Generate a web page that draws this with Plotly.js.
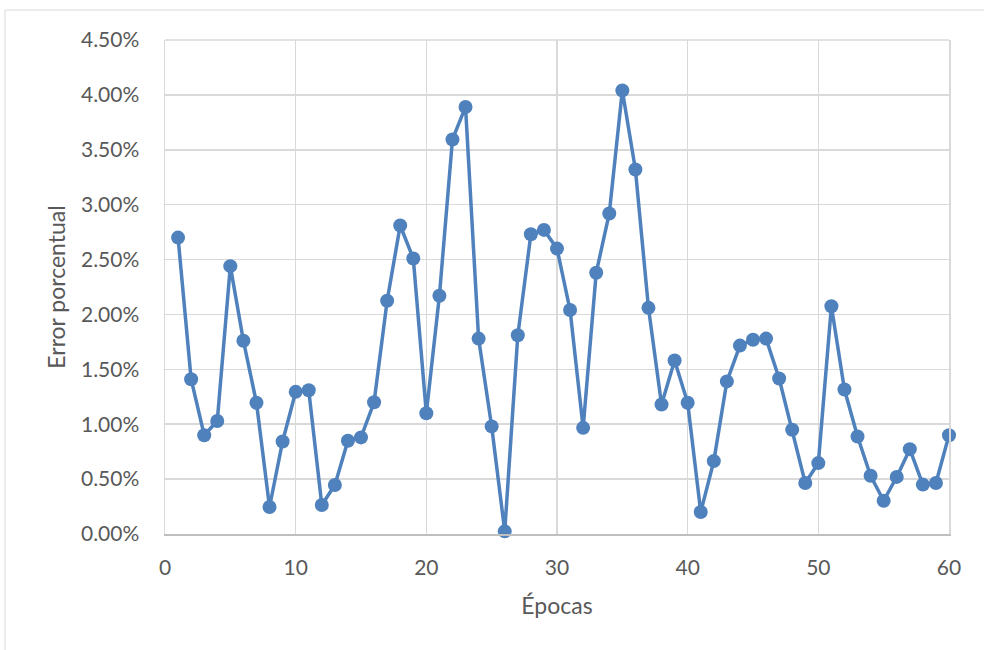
<!DOCTYPE html>
<html>
<head>
<meta charset="utf-8">
<script src="https://cdn.plot.ly/plotly-3.0.1.min.js"></script>
<style>html,body{margin:0;padding:0;background:#fff;}#chart{width:984px;height:650px;}</style>
</head>
<body>
<div id="chart"></div>
<script>
const epochs = [];
for (let i = 1; i <= 60; i++) epochs.push(i);
const errorPct = [
  2.70, 1.41, 0.90, 1.03, 2.44, 1.76, 1.195, 0.246, 0.843, 1.295,
  1.31, 0.264, 0.446, 0.849, 0.88, 1.20, 2.125, 2.81, 2.51, 1.10,
  2.17, 3.594, 3.89, 1.78, 0.98, 0.024, 1.81, 2.73, 2.77, 2.60,
  2.04, 0.967, 2.38, 2.92, 4.04, 3.32, 2.06, 1.18, 1.58, 1.195,
  0.20, 0.664, 1.39, 1.716, 1.77, 1.78, 1.416, 0.95, 0.464, 0.646,
  2.075, 1.316, 0.888, 0.53, 0.303, 0.52, 0.773, 0.45, 0.464, 0.90
];
const yValues = errorPct.map(v => v / 100);
const xTickVals = [0, 10, 20, 30, 40, 50, 60];
const yTickVals = [0, 0.005, 0.01, 0.015, 0.02, 0.025, 0.03, 0.035, 0.04, 0.045];
const xTitle = 'Épocas';
const yTitle = 'Error porcentual';

const fontFam = 'Lato, "Open Sans", sans-serif';
const textColor = '#595959';
const gridColor = '#d9d9d9';

Plotly.newPlot('chart', [{
  x: epochs,
  y: yValues,
  type: 'scatter',
  mode: 'lines+markers',
  cliponaxis: false,
  line: {color: '#4f81bd', width: 3.5},
  marker: {color: '#4f81bd', size: 14},
  hoverinfo: 'x+y'
}], {
  width: 984,
  height: 650,
  paper_bgcolor: '#ffffff',
  plot_bgcolor: '#ffffff',
  margin: {l: 165, r: 35, t: 40, b: 116},
  showlegend: false,
  font: {family: fontFam, color: textColor, size: 21},
  xaxis: {
    range: [0, 60],
    tickvals: xTickVals,
    ticktext: xTickVals.map(String),
    showgrid: true,
    gridcolor: gridColor,
    gridwidth: 1.5,
    zeroline: false,
    showline: true,
    linecolor: '#bfbfbf',
    linewidth: 1.5,
    ticks: '',
    ticklabelstandoff: 14,
    tickfont: {family: fontFam, color: textColor, size: 21},
    title: {text: xTitle, font: {family: fontFam, color: textColor, size: 23}, standoff: 20},
    fixedrange: true
  },
  yaxis: {
    range: [0, 0.045],
    tickvals: yTickVals,
    tickformat: '.2%',
    showgrid: true,
    gridcolor: gridColor,
    gridwidth: 1.5,
    zeroline: false,
    showline: true,
    mirror: true,
    linecolor: gridColor,
    linewidth: 1.5,
    ticks: '',
    ticklabelstandoff: 20,
    tickfont: {family: fontFam, color: textColor, size: 21},
    title: {text: yTitle, font: {family: fontFam, color: textColor, size: 23}, standoff: 9},
    fixedrange: true
  },
  shapes: [
    {type: 'line', xref: 'paper', yref: 'paper', x0: 0, x1: 1, y0: 1, y1: 1,
     line: {color: gridColor, width: 1.5}, layer: 'below'},
    {type: 'rect', xref: 'paper', yref: 'paper',
     x0: (5 - 165) / 784, x1: (995 - 165) / 784,
     y0: (534 - 660) / 494, y1: (534 - 10) / 494,
     line: {color: '#d9d9d9', width: 1}, fillcolor: 'rgba(0,0,0,0)', layer: 'below'}
  ]
}, {displayModeBar: false, staticPlot: true});
</script>
</body>
</html>
